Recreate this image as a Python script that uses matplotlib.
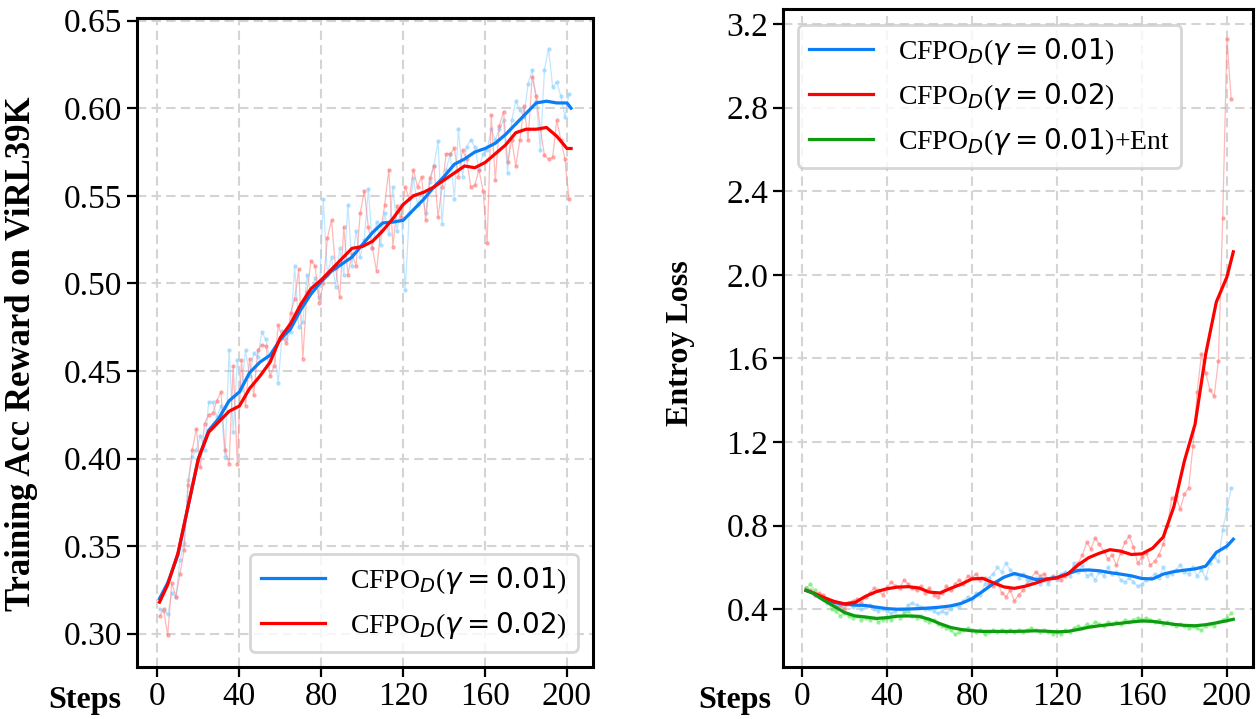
import numpy as np
import matplotlib
matplotlib.use("Agg")
import matplotlib.pyplot as plt

plt.rcParams['font.family'] = ['Liberation Serif', 'DejaVu Sans']
plt.rcParams['mathtext.fontset'] = 'dejavusans'

# ---------------- left panel : training accuracy reward ----------------
acc_steps = np.arange(1, 203, 2)
acc_raw_001 = [
    0.314, 0.313, 0.311, 0.323, 0.321, 0.342, 0.352, 0.388, 0.401, 0.405,
    0.413, 0.405, 0.432, 0.432, 0.424, 0.430, 0.401, 0.462, 0.415, 0.456,
    0.439, 0.462, 0.447, 0.460, 0.458, 0.472, 0.468, 0.456, 0.462, 0.443,
    0.473, 0.468, 0.472, 0.510, 0.475, 0.478, 0.505, 0.495, 0.503, 0.492,
    0.548, 0.505, 0.515, 0.498, 0.520, 0.505, 0.545, 0.510, 0.530, 0.515,
    0.525, 0.554, 0.520, 0.535, 0.522, 0.540, 0.528, 0.555, 0.530, 0.545,
    0.496, 0.540, 0.560, 0.545, 0.552, 0.540, 0.558, 0.567, 0.581, 0.534,
    0.565, 0.574, 0.548, 0.588, 0.561, 0.578, 0.582, 0.578, 0.565, 0.574,
    0.576, 0.588, 0.582, 0.588, 0.593, 0.563, 0.593, 0.604, 0.599, 0.595,
    0.614, 0.622, 0.604, 0.576, 0.622, 0.634, 0.612, 0.615, 0.607, 0.595,
    0.608]
acc_raw_002 = [
    0.310, 0.314, 0.299, 0.329, 0.321, 0.334, 0.348, 0.385, 0.405, 0.417,
    0.395, 0.420, 0.425, 0.426, 0.433, 0.438, 0.405, 0.397, 0.453, 0.397,
    0.456, 0.430, 0.457, 0.436, 0.462, 0.465, 0.464, 0.447, 0.453, 0.476,
    0.469, 0.466, 0.483, 0.491, 0.508, 0.457, 0.495, 0.513, 0.510, 0.489,
    0.500, 0.526, 0.536, 0.509, 0.492, 0.532, 0.505, 0.517, 0.510, 0.540,
    0.553, 0.532, 0.520, 0.507, 0.530, 0.545, 0.565, 0.521, 0.544, 0.538,
    0.555, 0.548, 0.565, 0.555, 0.561, 0.536, 0.560, 0.567, 0.538, 0.555,
    0.574, 0.574, 0.577, 0.561, 0.576, 0.571, 0.555, 0.556, 0.565, 0.553,
    0.523, 0.596, 0.559, 0.590, 0.598, 0.569, 0.582, 0.567, 0.582, 0.601,
    0.582, 0.618, 0.607, 0.588, 0.573, 0.571, 0.572, 0.593, 0.582, 0.571,
    0.548]

acc_smooth_steps = [1] + list(range(5, 201, 5)) + [202]
acc_smooth_001 = [
    0.320, 0.329, 0.345, 0.373, 0.400, 0.416, 0.423, 0.433, 0.438, 0.449,
    0.455, 0.459, 0.468, 0.474, 0.485, 0.494, 0.501, 0.507, 0.511, 0.515,
    0.522, 0.529, 0.5345, 0.535, 0.536, 0.542, 0.548, 0.555, 0.561, 0.568,
    0.571, 0.575, 0.577, 0.580, 0.585, 0.591, 0.597, 0.603, 0.604, 0.603,
    0.603, 0.600]
acc_smooth_002 = [
    0.318, 0.328, 0.346, 0.373, 0.400, 0.415, 0.421, 0.427, 0.430, 0.440,
    0.447, 0.455, 0.469, 0.477, 0.488, 0.497, 0.502, 0.508, 0.514, 0.520,
    0.521, 0.524, 0.530, 0.537, 0.545, 0.550, 0.552, 0.555, 0.559, 0.563,
    0.567, 0.566, 0.569, 0.574, 0.579, 0.586, 0.588, 0.588, 0.589, 0.584,
    0.577, 0.577]

# ---------------- right panel : entropy loss ----------------
ent_steps = np.arange(2, 204, 2)
ent_raw_001 = [
    0.50, 0.49, 0.47, 0.46, 0.45, 0.43, 0.44, 0.42, 0.41, 0.42,
    0.43, 0.41, 0.42, 0.40, 0.41, 0.42, 0.40, 0.39, 0.40, 0.39,
    0.38, 0.39, 0.40, 0.39, 0.42, 0.43, 0.42, 0.41, 0.40, 0.40,
    0.39, 0.38, 0.39, 0.38, 0.40, 0.42, 0.41, 0.44, 0.46, 0.45,
    0.48, 0.47, 0.52, 0.55, 0.57, 0.60, 0.58, 0.62, 0.59, 0.57,
    0.55, 0.57, 0.54, 0.53, 0.55, 0.52, 0.54, 0.52, 0.55, 0.54,
    0.57, 0.58, 0.56, 0.62, 0.58, 0.61, 0.56, 0.57, 0.54, 0.58,
    0.56, 0.60, 0.57, 0.58, 0.54, 0.53, 0.55, 0.53, 0.51, 0.52,
    0.54, 0.55, 0.57, 0.55, 0.60, 0.56, 0.57, 0.59, 0.61, 0.58,
    0.57, 0.60, 0.56, 0.59, 0.55, 0.62, 0.65, 0.63, 0.78, 0.88,
    0.98]
ent_raw_002 = [
    0.50, 0.49, 0.47, 0.48, 0.47, 0.44, 0.43, 0.41, 0.42, 0.40,
    0.43, 0.44, 0.45, 0.43, 0.46, 0.48, 0.50, 0.49, 0.47, 0.50,
    0.53, 0.51, 0.50, 0.54, 0.52, 0.50, 0.49, 0.51, 0.48, 0.50,
    0.47, 0.46, 0.48, 0.51, 0.49, 0.52, 0.54, 0.52, 0.56, 0.55,
    0.57, 0.54, 0.55, 0.52, 0.51, 0.53, 0.48, 0.46, 0.49, 0.44,
    0.47, 0.49, 0.52, 0.55, 0.58, 0.56, 0.57, 0.54, 0.56, 0.55,
    0.54, 0.56, 0.58, 0.60, 0.62, 0.66, 0.72, 0.69, 0.74, 0.71,
    0.68, 0.64, 0.66, 0.61, 0.67, 0.72, 0.75, 0.70, 0.62, 0.65,
    0.67, 0.61, 0.63, 0.66, 0.71, 0.80, 0.93, 0.94, 0.88, 0.95,
    0.98, 1.18, 1.44, 1.62, 1.53, 1.45, 1.42, 1.59, 2.27, 3.13,
    2.84]
ent_raw_ent = [
    0.50, 0.52, 0.49, 0.47, 0.46, 0.44, 0.40, 0.39, 0.37, 0.38,
    0.37, 0.36, 0.37, 0.35, 0.36, 0.35, 0.36, 0.34, 0.35, 0.36,
    0.35, 0.37, 0.36, 0.38, 0.39, 0.37, 0.36, 0.37, 0.35, 0.34,
    0.35, 0.33, 0.32, 0.31, 0.30, 0.28, 0.29, 0.30, 0.31, 0.30,
    0.29, 0.30, 0.28, 0.29, 0.30, 0.29, 0.30, 0.29, 0.30, 0.29,
    0.30, 0.29, 0.30, 0.31, 0.30, 0.29, 0.30, 0.29, 0.28, 0.29,
    0.28, 0.30, 0.29, 0.31, 0.32, 0.31, 0.33, 0.32, 0.34, 0.33,
    0.32, 0.34, 0.33, 0.34, 0.33, 0.35, 0.34, 0.35, 0.36, 0.35,
    0.36, 0.35, 0.34, 0.35, 0.33, 0.34, 0.33, 0.32, 0.33, 0.32,
    0.31, 0.32, 0.31, 0.30, 0.32, 0.33, 0.32, 0.34, 0.35, 0.36,
    0.38]

ent_smooth_steps = [2] + list(range(5, 201, 5)) + [203]
ent_smooth_001 = [
    0.490, 0.478, 0.452, 0.433, 0.424, 0.420, 0.418, 0.410, 0.403, 0.400,
    0.401, 0.403, 0.406, 0.410, 0.416, 0.428, 0.450, 0.485, 0.522, 0.553,
    0.571, 0.558, 0.542, 0.545, 0.552, 0.570, 0.586, 0.588, 0.584, 0.575,
    0.568, 0.560, 0.547, 0.545, 0.568, 0.580, 0.587, 0.593, 0.606, 0.672,
    0.702, 0.735]
ent_smooth_002 = [
    0.490, 0.480, 0.458, 0.438, 0.426, 0.432, 0.462, 0.484, 0.498, 0.506,
    0.508, 0.502, 0.482, 0.478, 0.500, 0.520, 0.545, 0.548, 0.527, 0.507,
    0.500, 0.510, 0.525, 0.543, 0.550, 0.568, 0.612, 0.647, 0.668, 0.685,
    0.678, 0.662, 0.665, 0.692, 0.745, 0.890, 1.110, 1.285, 1.620, 1.870,
    1.990, 2.110]
ent_smooth_ent = [
    0.490, 0.478, 0.445, 0.415, 0.385, 0.368, 0.363, 0.356, 0.360, 0.367,
    0.368, 0.366, 0.352, 0.331, 0.313, 0.303, 0.297, 0.294, 0.294, 0.294,
    0.294, 0.295, 0.297, 0.295, 0.292, 0.294, 0.303, 0.314, 0.321, 0.327,
    0.333, 0.339, 0.344, 0.342, 0.335, 0.328, 0.323, 0.321, 0.326, 0.335,
    0.345, 0.352]

labels = ['CFPO$_D$($\\gamma=0.01$)', 'CFPO$_D$($\\gamma=0.02$)',
          'CFPO$_D$($\\gamma=0.01$)+Ent']
line_colors = ['#0a7df7', '#ff0000', '#0f9b0f']
raw_colors = ['#8fd3ff', '#ff8080', '#66f066']

fig = plt.figure(figsize=(12.59, 7.19), dpi=100)
ax1 = fig.add_axes([0.1088, 0.0723, 0.3622, 0.9027])
ax2 = fig.add_axes([0.6217, 0.0727, 0.3736, 0.9143])


def style_axis(ax):
    ax.grid(True, color='#d4d4d4', linestyle=(0, (4.5, 2.5)), linewidth=1.5)
    ax.set_axisbelow(True)
    for sp in ax.spines.values():
        sp.set_linewidth(2.2)
    ax.tick_params(axis='both', labelsize=24, length=7, width=1.6)


def draw(ax, steps, raw, sm_steps, sm, i):
    ax.plot(steps, raw, color=raw_colors[i], lw=0.9, marker='o', ms=2.2,
            alpha=0.55, zorder=2)
    ax.plot(sm_steps, sm, color=line_colors[i], lw=2.3, label=labels[i], zorder=3)


draw(ax1, acc_steps, acc_raw_001, acc_smooth_steps, acc_smooth_001, 0)
draw(ax1, acc_steps, acc_raw_002, acc_smooth_steps, acc_smooth_002, 1)
style_axis(ax1)
ax1.set_xlim(-10, 212.7)
ax1.set_ylim(0.281, 0.6515)
ax1.set_xticks(range(0, 201, 40))
ax1.set_yticks(np.arange(0.30, 0.651, 0.05))
ax1.set_ylabel('Training Acc Reward on ViRL39K', fontsize=25, fontweight='bold')
ax1.yaxis.set_label_coords(-0.217, 0.482)
ax1.set_xlabel('Steps', fontsize=23, fontweight='bold', va='center')
ax1.xaxis.set_label_coords(-0.114, -0.051)
leg1 = ax1.legend(loc='lower right', fontsize=20, handlelength=2.3,
                  handletextpad=0.9, borderaxespad=0.55, fancybox=True)
leg1.get_frame().set_linewidth(2.0)
leg1.get_frame().set_edgecolor('#cccccc')

draw(ax2, ent_steps, ent_raw_001, ent_smooth_steps, ent_smooth_001, 0)
draw(ax2, ent_steps, ent_raw_002, ent_smooth_steps, ent_smooth_002, 1)
draw(ax2, ent_steps, ent_raw_ent, ent_smooth_steps, ent_smooth_ent, 2)
style_axis(ax2)
ax2.set_xlim(-9, 212.3)
ax2.set_ylim(0.125, 3.27)
ax2.set_xticks(range(0, 201, 40))
ax2.set_yticks(np.arange(0.4, 3.21, 0.4))
ax2.yaxis.set_major_formatter(matplotlib.ticker.FormatStrFormatter('%.1f'))
ax2.set_ylabel('Entroy Loss', fontsize=23, fontweight='bold')
ax2.yaxis.set_label_coords(-0.186, 0.492)
ax2.set_xlabel('Steps', fontsize=23, fontweight='bold', va='center')
ax2.xaxis.set_label_coords(-0.101, -0.0507)
leg2 = ax2.legend(loc='upper left', fontsize=20, handlelength=2.3,
                  handletextpad=0.9, borderaxespad=0.55, fancybox=True)
leg2.get_frame().set_linewidth(2.0)
leg2.get_frame().set_edgecolor('#cccccc')

fig.savefig('out.png', dpi=100)
